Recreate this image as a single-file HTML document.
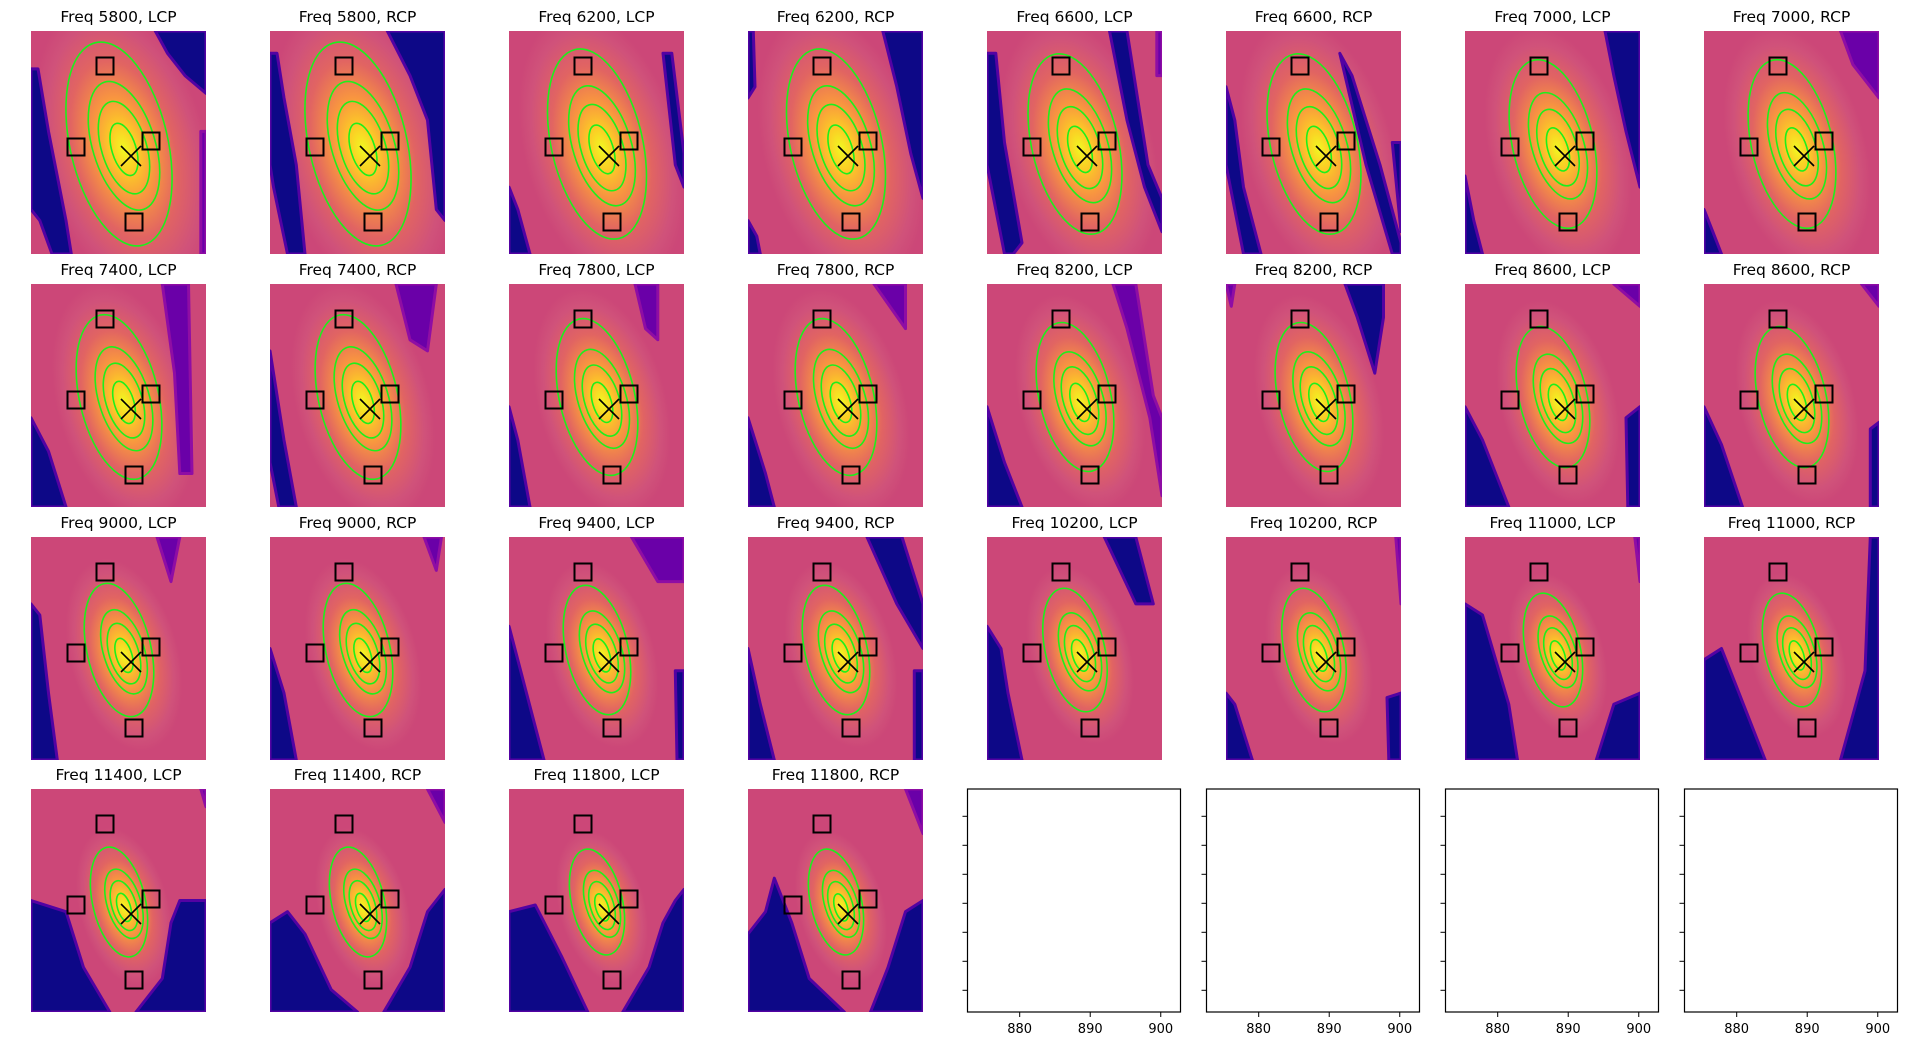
<!DOCTYPE html>
<html><head><meta charset="utf-8">
<style>
html,body{margin:0;padding:0;background:#fff;}
svg{display:block;}
text{font-family:"DejaVu Sans","Liberation Sans",sans-serif;}
</style></head>
<body>
<svg id="fig" width="1920" height="1046" viewBox="0 0 1920 1046" xmlns="http://www.w3.org/2000/svg"></svg>
<script>
// ---- data ----
const freqs = [5800,5800,6200,6200,6600,6600,7000,7000,7400,7400,7800,7800,8200,8200,8600,8600,9000,9000,9400,9400,10200,10200,11000,11000,11400,11400,11800,11800];
const pols = ["LCP","RCP"];
const outerFreq = [5800,6200,6600,7000,7400,7800,8200,8600,9000,9400,10200,11000,11400,11800];
const outerRy = [104,97,92,86,84,80,76,72,68,66,63,58,56,54];
const levelFrac = [1,0.64,0.46,0.26];
const markerSquares = [[74,35],[45,116],[120,110],[103,191]];
const markerX = [100,125];
const xTickVals = [880,890,900];
const xLim = [872.6,902.8];
const yTickCount = 7;
// dark regions per panel: [color, [x,y fractions...]]  B=blue, P=purple
const regions = [
 [["B",[0,0.17,0.04,0.17,0.1,0.45,0.2,0.85,0.23,1,0.12,1,0.05,0.85,0,0.8]],["B",[0.71,0,1,0,1,0.28,0.88,0.2,0.78,0.1]],["P",[0.97,0.45,1,0.45,1,1,0.97,1]]],
 [["B",[0,0.1,0.04,0.1,0.08,0.3,0.15,0.6,0.2,1,0.1,1,0.02,0.7,0,0.6]],["B",[0.67,0,1,0,1,0.85,0.95,0.8,0.9,0.4,0.8,0.2]]],
 [["B",[0,0.7,0.05,0.8,0.12,1,0,1]],["B",[0.88,0.1,0.93,0.1,1,0.55,1,0.7,0.95,0.6]]],
 [["B",[0.77,0,1,0,1,0.75,0.93,0.55,0.85,0.25]],["B",[0,0,0.03,0,0.04,0.25,0,0.3]],["B",[0,0.85,0.05,0.92,0.07,1,0,1]]],
 [["B",[0,0.1,0.05,0.1,0.1,0.5,0.2,0.95,0.15,1,0.1,1,0,0.6]],["B",[0.7,0,0.8,0,0.92,0.6,1,0.75,1,0.9,0.9,0.7,0.8,0.4]],["P",[0.97,0,1,0,1,0.2,0.97,0.2]]],
 [["B",[0,0.25,0.05,0.4,0.1,0.7,0.2,1,0.1,1,0,0.6]],["B",[0.65,0.1,0.72,0.2,0.88,0.6,1,0.95,1,1,0.95,1,0.8,0.6]],["B",[0.95,0.5,1,0.5,1,0.9]]],
 [["B",[0.8,0,1,0,1,0.7,0.92,0.45,0.85,0.2]],["B",[0,0.65,0.05,0.85,0.1,1,0,1]]],
 [["P",[0.78,0,1,0,1,0.3,0.85,0.15]],["B",[0,0.8,0.05,0.9,0.1,1,0,1]]],
 [["P",[0.75,0,0.9,0,0.92,0.85,0.85,0.85,0.82,0.4]],["B",[0,0.6,0.1,0.75,0.2,1,0,1]]],
 [["P",[0.72,0,0.95,0,0.9,0.3,0.8,0.25]],["B",[0,0.3,0.03,0.45,0.08,0.7,0.15,1,0.05,1,0,0.8]]],
 [["P",[0.72,0,0.85,0,0.85,0.25,0.78,0.2]],["B",[0,0.55,0.05,0.7,0.12,1,0,1]]],
 [["P",[0.72,0,0.9,0,0.9,0.2]],["B",[0,0.6,0.1,0.85,0.15,1,0,1]]],
 [["P",[0.72,0,0.85,0,0.95,0.5,1,0.6,1,0.95,0.93,0.6,0.8,0.2]],["B",[0,0.55,0.1,0.8,0.2,1,0,1]]],
 [["B",[0.68,0,0.9,0,0.9,0.15,0.85,0.4,0.75,0.15]],["P",[0,0,0.05,0,0.03,0.1]]],
 [["P",[0.85,0,1,0,1,0.1]],["B",[0,0.55,0.1,0.7,0.25,1,0,1]],["B",[0.92,0.6,1,0.55,1,1,0.93,1]]],
 [["B",[0,0.55,0.1,0.72,0.22,1,0,1]],["B",[0.95,0.65,1,0.62,1,1,0.95,1]],["P",[0.9,0,1,0,1,0.1]]],
 [["B",[0,0.3,0.05,0.35,0.1,0.7,0.15,1,0,1]],["P",[0.72,0,0.85,0,0.8,0.2]]],
 [["B",[0,0.5,0.08,0.7,0.15,1,0,1]],["P",[0.88,0,0.98,0,0.95,0.15]]],
 [["P",[0.7,0,1,0,1,0.2,0.85,0.2]],["B",[0,0.4,0.1,0.7,0.2,1,0,1]],["B",[0.95,0.6,1,0.6,1,1,0.96,1]]],
 [["B",[0.68,0,0.88,0,1,0.3,1,0.5,0.85,0.3]],["B",[0,0.5,0.07,0.75,0.15,1,0,1]],["B",[0.95,0.6,1,0.6,1,1,0.95,1]]],
 [["B",[0.67,0,0.85,0,0.95,0.3,0.85,0.3]],["B",[0,0.4,0.08,0.5,0.12,0.7,0.2,1,0,1]]],
 [["B",[0,0.7,0.05,0.75,0.15,1,0,1]],["B",[0.92,0.72,1,0.7,1,1,0.93,1]],["P",[0.97,0,1,0,1,0.3]]],
 [["B",[0,0.3,0.1,0.35,0.25,0.75,0.3,1,0,1]],["B",[0.85,0.75,1,0.7,1,1,0.75,1]],["P",[0.97,0,1,0,1,0.2]]],
 [["B",[0,0.55,0.1,0.5,0.2,0.7,0.35,1,0,1]],["B",[0.95,0,1,0,1,1,0.78,1,0.85,0.8,0.92,0.6]]],
 [["B",[0,0.5,0.2,0.55,0.3,0.8,0.45,1,0,1]],["B",[0.85,0.5,1,0.5,1,1,0.6,1,0.75,0.85,0.8,0.6]],["P",[0.97,0,1,0,1,0.08]]],
 [["B",[0,0.6,0.1,0.55,0.2,0.65,0.35,0.9,0.5,1,0,1]],["B",[1,0.45,1,1,0.65,1,0.8,0.8,0.9,0.55]],["P",[0.9,0,1,0,1,0.15]]],
 [["B",[0,0.55,0.15,0.52,0.3,0.75,0.45,1,0,1]],["B",[0.95,0.5,1,0.45,1,1,0.65,1,0.8,0.8,0.88,0.6]]],
 [["B",[0,0.65,0.1,0.55,0.15,0.4,0.25,0.6,0.35,0.85,0.55,1,0,1]],["B",[0.9,0.55,1,0.5,1,1,0.7,1,0.8,0.8]],["P",[0.9,0,1,0,1,0.2]]]
];
// ---- layout ----
const NS="http://www.w3.org/2000/svg";
const svg=document.getElementById('fig');
const colX=[31,270,509,748,987,1226,1465,1704];
const rowY=[31,284,537,789];
const W=175,H=223;
function el(tag,attrs,parent){const e=document.createElementNS(NS,tag);for(const k in attrs)e.setAttribute(k,attrs[k]);(parent||svg).appendChild(e);return e;}
const defs=el('defs',{});
function ryFor(f){return outerRy[outerFreq.indexOf(f)];}

for(let i=0;i<freqs.length;i++){
  const c=i%8,r=Math.floor(i/8);
  const x0=colX[c],y0=rowY[r];
  const f=freqs[i],pol=pols[i%2];
  const ry=ryFor(f),rx=ry*0.47;
  const title=el('text',{x:x0+W/2,y:y0-9,'text-anchor':'middle','font-size':'15.5',fill:'#000'});
  title.textContent='Freq '+f+', '+pol;
  
  
  const g=el('g',{transform:`translate(${x0},${y0})`});
  
  
  const cid='clip'+i, gid='grad'+i;
  const cp=el('clipPath',{id:cid},defs);el('rect',{x:0,y:0,width:W,height:H},cp);
  const rg=el('radialGradient',{id:gid,gradientUnits:'userSpaceOnUse',cx:93,cy:118,r:1,gradientTransform:`translate(93 118) rotate(-15) scale(${rx*1.7} ${ry*1.45}) translate(-93 -118)`},defs);
  [[0,'#f0f921'],[0.15,'#fccd25'],[0.35,'#f89540'],[0.6,'#e16462'],[0.85,'#d0527a'],[1,'#cc4778']].forEach(s=>el('stop',{offset:s[0],'stop-color':s[1]},rg));
  const inner=el('g',{'clip-path':`url(#${cid})`},g);
  const bg=el('rect',{x:0,y:0,width:W,height:H,fill:'#cc4778'},inner);
  
  
  const top=el('ellipse',{cx:80,cy:30,rx:45,ry:60,fill:'#d8576b',opacity:0.6},inner);
  const blob=el('rect',{x:0,y:0,width:W,height:H,fill:`url(#${gid})`},inner);
  
  
  regions[i].forEach(rgn=>{
    const pts=[];for(let k=0;k<rgn[1].length;k+=2)pts.push((rgn[1][k]*W).toFixed(1)+','+(rgn[1][k+1]*H).toFixed(1));
    const p=el('polygon',{points:pts.join(' '),fill:rgn[0]==='B'?'#0d0887':'#6a00a8',stroke:rgn[0]==='B'?'#5302a3':'#8f0da4','stroke-width':3,'stroke-linejoin':'round'},inner);
    
    
  });
  levelFrac.forEach((lf,k)=>{
    const cx=88+5*(k>0?1:0), cy=113+3*k*(0.6);
    const e=el('ellipse',{cx:cx,cy:cy,rx:rx*lf*(k===3?0.95:1),ry:ry*lf,fill:'none',stroke:'#1cf01c','stroke-width':1.6,transform:`rotate(${k===0?-13:-17} ${cx} ${cy})`},inner);
    
    
  });
  markerSquares.forEach(s=>{
    const q=el('rect',{x:s[0]-8.5,y:s[1]-8.5,width:17,height:17,fill:'none',stroke:'#000','stroke-width':2},g);
    
    
  });
  const xm=el('path',{d:`M${markerX[0]-10},${markerX[1]-10}L${markerX[0]+10},${markerX[1]+10}M${markerX[0]+10},${markerX[1]-10}L${markerX[0]-10},${markerX[1]+10}`,stroke:'#000','stroke-width':1.6,fill:'none'},g);
  
  
}
// empty axes
for(let c=4;c<8;c++){
  const bx=colX[c]-19.5,by=rowY[3],bw=213,bh=223;
  const g=el('g',{});
  
  
  const fr=el('rect',{x:bx,y:by,width:bw,height:bh,fill:'#fff',stroke:'#000','stroke-width':1.2},g);
  
  
  const sx=v=>bx+(v-xLim[0])/(xLim[1]-xLim[0])*bw;
  xTickVals.forEach(v=>{
    el('line',{x1:sx(v),x2:sx(v),y1:by+bh,y2:by+bh+5,stroke:'#000','stroke-width':1},g);
    const t=el('text',{x:sx(v),y:by+bh+21,'text-anchor':'middle','font-size':'13',fill:'#000'},g);
    t.textContent=v;
    
    
  });
  for(let k=0;k<yTickCount;k++){
    const yy=by+27.3+k*29;
    el('line',{x1:bx-5,x2:bx,y1:yy,y2:yy,stroke:'#000','stroke-width':1},g);
  }
}
</script>
</body></html>
